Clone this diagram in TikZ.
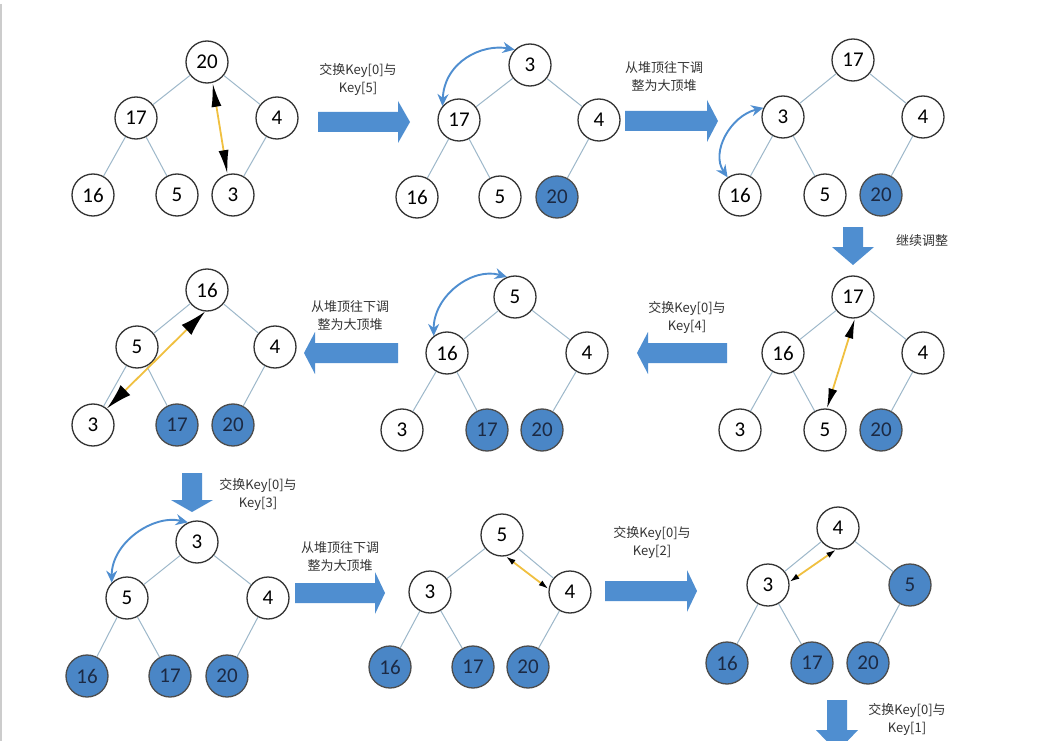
\documentclass[tikz,border=0pt]{standalone}
\usepackage{fontspec}
\setmainfont{Carlito}
\newfontfamily\cjk{Noto Sans CJK SC}
\usetikzlibrary{arrows.meta}
\definecolor{arrowblue}{HTML}{4F8ED0}
\definecolor{nodeblue}{HTML}{4A86C6}
\definecolor{edgecol}{HTML}{9DB8CA}
\definecolor{yell}{HTML}{F0C040}
\definecolor{darktext}{HTML}{1C2A44}
\tikzset{
  key/.style={circle,draw=black!80,line width=1.3pt,fill=white,minimum size=42pt,inner sep=0pt,font=\fontsize{21}{21}\selectfont},
  done/.style={key,fill=nodeblue,draw=black!70,text=darktext},
  treeedge/.style={draw=edgecol,line width=1pt},
  yswap/.style 2 args={draw=yell,line width=1.8pt,arrows={Latex[color=black,length=#1,width=#2]-Latex[color=black,length=#1,width=#2]}},
  curvarr/.style={draw=arrowblue,line width=1.9pt,arrows={Stealth[length=12pt,width=11pt]-Stealth[length=12pt,width=11pt]}},
  lbl/.style={align=center,font=\cjk\fontsize{13}{18}\selectfont,text=black!80},
  pics/barrow/.style 2 args={code={
    \fill[arrowblue] (0,-10) -- ({#1-#2},-10) -- ({#1-#2},-21) -- (#1,0) -- ({#1-#2},21) -- ({#1-#2},10) -- (0,10) -- cycle;}},
}
\begin{document}
\begin{tikzpicture}[x=1pt,y=-1pt]
\useasboundingbox[fill=white] (0,0) rectangle (1053,741);
\draw[black!20,line width=1.2pt] (1,4) -- (1,741);

% ---------- Tree 1
\node[key] (t1r) at (207,62) {20};
\node[key] (t1l) at (136,118) {17};
\node[key] (t1rr) at (277,118) {4};
\node[key] (t1ll) at (93,195) {16};
\node[key] (t1lr) at (177,195) {5};
\node[key] (t1rl) at (233,195) {3};
\draw[treeedge] (t1r) -- (t1l); \draw[treeedge] (t1r) -- (t1rr);
\draw[treeedge] (t1l) -- (t1ll); \draw[treeedge] (t1l) -- (t1lr);
\draw[treeedge] (t1rr) -- (t1rl);
\draw[yswap={24pt}{10pt}] (t1r.-75) -- (t1rl.105);

\pic at (318,122) {barrow={92}{12}};
\node[lbl] (l1) at (358,80) {交换Key[0]与\\Key[5]};

% ---------- Tree 2
\node[key] (t2r) at (530,65) {3};
\node[key] (t2l) at (459,120) {17};
\node[key] (t2rr) at (599,120) {4};
\node[key] (t2ll) at (417,197) {16};
\node[key] (t2lr) at (500,197) {5};
\node[done] (t2rl) at (557,197) {20};
\draw[treeedge] (t2r) -- (t2l); \draw[treeedge] (t2r) -- (t2rr);
\draw[treeedge] (t2l) -- (t2ll); \draw[treeedge] (t2l) -- (t2lr);
\draw[treeedge] (t2rr) -- (t2rl);
\draw[curvarr] (t2l.140) .. controls +(2,-45) and +(-32,-6) .. (t2r.135);

\pic at (625,121) {barrow={93}{11}};
\node[lbl] (l2) at (664,77) {从堆顶往下调\\整为大顶堆};

% ---------- Tree 3
\node[key] (t3r) at (853,60) {17};
\node[key] (t3l) at (783,117) {3};
\node[key] (t3rr) at (923,117) {4};
\node[key] (t3ll) at (740,195) {16};
\node[key] (t3lr) at (825,195) {5};
\node[done] (t3rl) at (881,195) {20};
\draw[treeedge] (t3r) -- (t3l); \draw[treeedge] (t3r) -- (t3rr);
\draw[treeedge] (t3l) -- (t3ll); \draw[treeedge] (t3l) -- (t3lr);
\draw[treeedge] (t3rr) -- (t3rl);
\draw[curvarr] (t3l.155) .. controls +(-33,8) and +(-17,-25) .. (t3ll.125);

\pic[rotate=-90] at (853,227) {barrow={38}{18}};
\node[lbl] (l3) at (922,241) {继续调整};

% ---------- Tree 4 (row 2, right)
\node[key] (t4r) at (853,297) {17};
\node[key] (t4l) at (783,353) {16};
\node[key] (t4rr) at (923,353) {4};
\node[key] (t4ll) at (740,430) {3};
\node[key] (t4lr) at (825,430) {5};
\node[done] (t4rl) at (881,430) {20};
\draw[treeedge] (t4r) -- (t4l); \draw[treeedge] (t4r) -- (t4rr);
\draw[treeedge] (t4l) -- (t4ll); \draw[treeedge] (t4l) -- (t4lr);
\draw[treeedge] (t4rr) -- (t4rl);
\draw[yswap={20pt}{9pt}] (t4r.-85) -- (t4lr.85);

\pic[rotate=180] at (727,353) {barrow={90}{11}};
\node[lbl] (l4) at (687,318) {交换Key[0]与\\Key[4]};

% ---------- Tree 5 (row 2, middle)
\node[key] (t5r) at (515,297) {5};
\node[key] (t5l) at (447,353) {16};
\node[key] (t5rr) at (587,353) {4};
\node[key] (t5ll) at (402,430) {3};
\node[done] (t5lr) at (487,430) {17};
\node[done] (t5rl) at (542,430) {20};
\draw[treeedge] (t5r) -- (t5l); \draw[treeedge] (t5r) -- (t5rr);
\draw[treeedge] (t5l) -- (t5ll); \draw[treeedge] (t5l) -- (t5lr);
\draw[treeedge] (t5rr) -- (t5rl);
\draw[curvarr] (t5l.128) .. controls +(0,-40) and +(-35,-10) .. (t5r.112);

\pic[rotate=180] at (398,353) {barrow={94}{11}};
\node[lbl] (l5) at (350,316) {从堆顶往下调\\整为大顶堆};

% ---------- Tree 6 (row 2, left)
\node[key] (t6r) at (207,290) {16};
\node[key] (t6l) at (137,347) {5};
\node[key] (t6rr) at (275,347) {4};
\node[key] (t6ll) at (93,425) {3};
\node[done] (t6lr) at (177,425) {17};
\node[done] (t6rl) at (233,425) {20};
\draw[treeedge] (t6r) -- (t6l); \draw[treeedge] (t6r) -- (t6rr);
\draw[treeedge] (t6l) -- (t6ll); \draw[treeedge] (t6l) -- (t6lr);
\draw[treeedge] (t6rr) -- (t6rl);
\draw[yswap={26pt}{14pt}] (t6r.265) -- (t6ll.50);

\pic[rotate=-90] at (192,473) {barrow={39}{12}};
\node[lbl] (l6) at (258,494) {交换Key[0]与\\Key[3]};

% ---------- Tree 7 (row 3, left)
\node[key] (t7r) at (197,542) {3};
\node[key] (t7l) at (127,598) {5};
\node[key] (t7rr) at (268,598) {4};
\node[done] (t7ll) at (87,676) {16};
\node[done] (t7lr) at (170,676) {17};
\node[done] (t7rl) at (227,676) {20};
\draw[treeedge] (t7r) -- (t7l); \draw[treeedge] (t7r) -- (t7rr);
\draw[treeedge] (t7l) -- (t7ll); \draw[treeedge] (t7l) -- (t7lr);
\draw[treeedge] (t7rr) -- (t7rl);
\draw[curvarr] (t7l.135) .. controls +(0,-40) and +(-35,-8) .. (t7r.115);

\pic at (295,593) {barrow={90}{10}};
\node[lbl] (l7) at (340,557) {从堆顶往下调\\整为大顶堆};

% ---------- Tree 8 (row 3, middle)
\node[key] (t8r) at (502,535) {5};
\node[key] (t8l) at (430,592) {3};
\node[key] (t8rr) at (570,592) {4};
\node[done] (t8ll) at (390,667) {16};
\node[done] (t8lr) at (473,667) {17};
\node[done] (t8rl) at (528,667) {20};
\draw[treeedge] (t8r) -- (t8l); \draw[treeedge] (t8r) -- (t8rr);
\draw[treeedge] (t8l) -- (t8ll); \draw[treeedge] (t8l) -- (t8lr);
\draw[treeedge] (t8rr) -- (t8rl);
\draw[yswap={10pt}{6pt}] (t8r.-80) -- (t8rr.172);

\pic at (605,591) {barrow={92}{10}};
\node[lbl] (l8) at (652,542) {交换Key[0]与\\Key[2]};

% ---------- Tree 9 (row 3, right)
\node[key] (t9r) at (838,528) {4};
\node[key] (t9l) at (768,585) {3};
\node[done] (t9rr) at (910,585) {5};
\node[done] (t9ll) at (727,663) {16};
\node[done] (t9lr) at (812,663) {17};
\node[done] (t9rl) at (868,663) {20};
\draw[treeedge] (t9r) -- (t9l); \draw[treeedge] (t9r) -- (t9rr);
\draw[treeedge] (t9l) -- (t9ll); \draw[treeedge] (t9l) -- (t9lr);
\draw[treeedge] (t9rr) -- (t9rl);
\draw[yswap={10pt}{6pt}] (t9r.-95) -- (t9l.8);

\pic[rotate=-90] at (837,700) {barrow={52}{22}};
\node[lbl] (l9) at (907,719) {交换Key[0]与\\Key[1]};
\end{tikzpicture}
\end{document}
